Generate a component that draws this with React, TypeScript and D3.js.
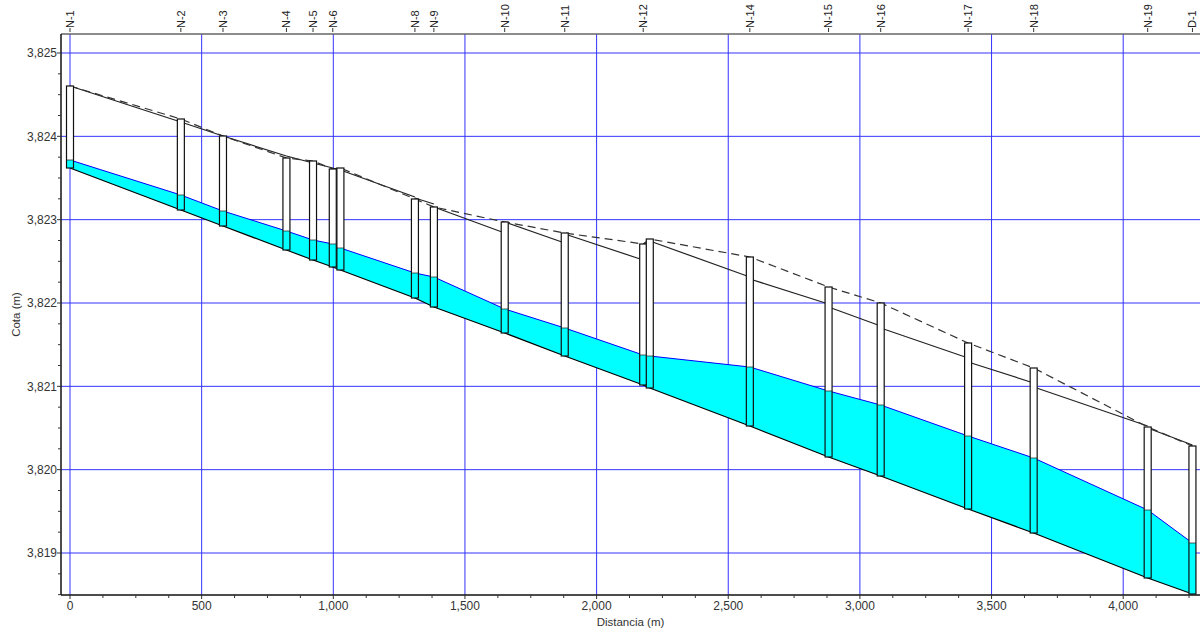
import React from 'react';
import * as d3 from 'd3';

const nodeNames = ['N-1','N-2','N-3','N-4','N-5','N-6','N-7','N-8','N-9','N-10','N-11','N-12','N-13','N-14','N-15','N-16','N-17','N-18','N-19','D-1'];
const hiddenLabels = ['N-7','N-13'];
const distance = [0,421,581,822,923,998,1027,1310,1382,1651,1879,2177,2202,2582,2881,3079,3411,3660,4093,4263];
const invertElev = [3823.620,3823.116,3822.924,3822.636,3822.516,3822.432,3822.396,3822.060,3821.952,3821.640,3821.364,3821.016,3820.980,3820.524,3820.152,3819.924,3819.528,3819.240,3818.700,3818.508];
const rimElev = [3824.604,3824.208,3824.004,3823.740,3823.704,3823.608,3823.620,3823.248,3823.152,3822.972,3822.840,3822.708,3822.768,3822.552,3822.192,3822.000,3821.520,3821.220,3820.512,3820.284];
const waterElev = [3823.716,3823.296,3823.104,3822.864,3822.756,3822.708,3822.660,3822.360,3822.312,3821.928,3821.700,3821.376,3821.364,3821.232,3820.944,3820.776,3820.404,3820.140,3819.516,3819.120];
// crown of the incoming link at each node, and of the outgoing link
const crownInElev = [3824.604,3824.172,3824.004,3823.764,3823.680,3823.620,3823.596,3823.272,3823.188,3822.840,3822.720,3822.516,3822.744,3822.312,3821.988,3821.724,3821.340,3821.040,3820.524,3820.296];
const crownOutElev = [3824.604,3824.172,3824.004,3823.764,3823.680,3823.620,3823.596,3823.260,3823.152,3822.972,3822.828,3822.708,3822.744,3822.288,3821.952,3821.700,3821.292,3820.992,3820.500,3820.296];

const xMajorTicks = [0,500,1000,1500,2000,2500,3000,3500,4000];
const yMajorTicks = [3819,3820,3821,3822,3823,3824,3825];
const xTitle = 'Distancia (m)';
const yTitle = 'Cota (m)';

const W = 1200, H = 630;
const L = 61, R = 1200, T = 34, B = 595;
const FONT = '"Liberation Sans", Arial, sans-serif';

export default function App() {
  const x = d3.scaleLinear().domain([-34.2, 4291.7]).range([L, R]);
  const y = d3.scaleLinear().domain([3818.496, 3825.228]).range([B, T]);
  const fmt = d3.format(',.0f');

  const xMinor = d3.range(0, 4300, 125).filter(v => !xMajorTicks.includes(v));
  const yMinor = d3.range(3818.5, 3825.01, 0.25).filter(v => Math.abs(v - Math.round(v)) > 0.01);

  const idx = d3.range(nodeNames.length);
  const area = d3.area<number>()
    .x(i => x(distance[i]))
    .y0(i => y(invertElev[i]))
    .y1(i => y(waterElev[i]));
  const lineOf = (arr: number[]) => d3.line<number>().x(i => x(distance[i])).y(i => y(arr[i]));

  const shaftW = 7;

  return (
    <svg width={W} height={H} style={{ position: 'absolute', left: 0, top: 0, background: '#fff' }}>
      <defs>
        <clipPath id="plot"><rect x={L} y={T} width={R - L} height={B - T} /></clipPath>
      </defs>
      {/* grid */}
      <g stroke="#0000ff" strokeWidth={1} opacity={0.8}>
        {xMajorTicks.map(v => <line key={'gx' + v} x1={x(v)} x2={x(v)} y1={T} y2={B} />)}
        {yMajorTicks.map(v => <line key={'gy' + v} x1={L} x2={R} y1={y(v)} y2={y(v)} />)}
      </g>
      <g clipPath="url(#plot)">
        <path d={area(idx) || ''} fill="#00ffff" stroke="none" />
        <path d={lineOf(waterElev)(idx) || ''} fill="none" stroke="#0000ff" strokeWidth={1} />
        <path d={lineOf(invertElev)(idx) || ''} fill="none" stroke="#000" strokeWidth={1.2} />
        {idx.slice(0, -1).map(i => (
          <line key={'c' + i} x1={x(distance[i])} y1={y(crownOutElev[i])} x2={x(distance[i + 1])} y2={y(crownInElev[i + 1])} stroke="#222" strokeWidth={1.2} />
        ))}
        <path d={lineOf(rimElev)(idx) || ''} fill="none" stroke="#333" strokeWidth={1.2} strokeDasharray="8,5" />
        {idx.map(i => {
          const cx = x(distance[i]);
          const yt = y(rimElev[i]);
          const yb = y(invertElev[i]);
          const yw = y(waterElev[i]);
          return (
            <g key={'s' + i}>
              <rect x={cx - shaftW / 2} y={yt} width={shaftW} height={yw - yt} fill="#fff" />
              <rect x={cx - shaftW / 2} y={yw} width={shaftW} height={yb - yw} fill="#00ffff" />
              <line x1={cx - shaftW / 2} x2={cx + shaftW / 2} y1={yw} y2={yw} stroke="#333" strokeWidth={0.8} />
              <rect x={cx - shaftW / 2} y={yt} width={shaftW} height={yb - yt} fill="none" stroke="#111" strokeWidth={1.2} />
            </g>
          );
        })}
      </g>
      {/* axes */}
      <line x1={L} x2={R} y1={T} y2={T} stroke="#666" strokeWidth={1.5} />
      <line x1={L} x2={L} y1={T} y2={B} stroke="#111" strokeWidth={1.5} />
      <line x1={L} x2={R} y1={B} y2={B} stroke="#111" strokeWidth={1.5} />
      <g stroke="#333" strokeWidth={1}>
        {yMajorTicks.map(v => <line key={'ty' + v} x1={L - 4} x2={L} y1={y(v)} y2={y(v)} />)}
        {yMinor.map(v => <line key={'tym' + v} x1={L - 3} x2={L} y1={y(v)} y2={y(v)} />)}
        {xMajorTicks.map(v => <line key={'tx' + v} x1={x(v)} x2={x(v)} y1={B} y2={B + 4} />)}
        {xMinor.map(v => <line key={'txm' + v} x1={x(v)} x2={x(v)} y1={B} y2={B + 3} />)}
        {idx.filter(i => !hiddenLabels.includes(nodeNames[i])).map(i => (
          <line key={'tn' + i} x1={x(distance[i])} x2={x(distance[i])} y1={T - 6} y2={T - 2} />
        ))}
      </g>
      <g fontFamily={FONT} fontSize={12} fill="#333">
        {yMajorTicks.map(v => (
          <text key={'ly' + v} x={L - 4} y={y(v)} dy="0.35em" textAnchor="end">{fmt(v)}</text>
        ))}
        {xMajorTicks.map(v => (
          <text key={'lx' + v} x={x(v)} y={B + 15} textAnchor="middle">{fmt(v)}</text>
        ))}
        <text x={(L + R) / 2} y={626} textAnchor="middle" fontSize={11.5}>{xTitle}</text>
        <text transform={`translate(20,${(T + B) / 2}) rotate(-90)`} textAnchor="middle" fontSize={11.5}>{yTitle}</text>
      </g>
      <g fontFamily={FONT} fontSize={11} fill="#222">
        {idx.filter(i => !hiddenLabels.includes(nodeNames[i])).map(i => (
          <text key={'ln' + i} transform={`translate(${x(distance[i])},${T - 6}) rotate(-90)`} dy="0.35em" textAnchor="start">{nodeNames[i]}</text>
        ))}
      </g>
    </svg>
  );
}
